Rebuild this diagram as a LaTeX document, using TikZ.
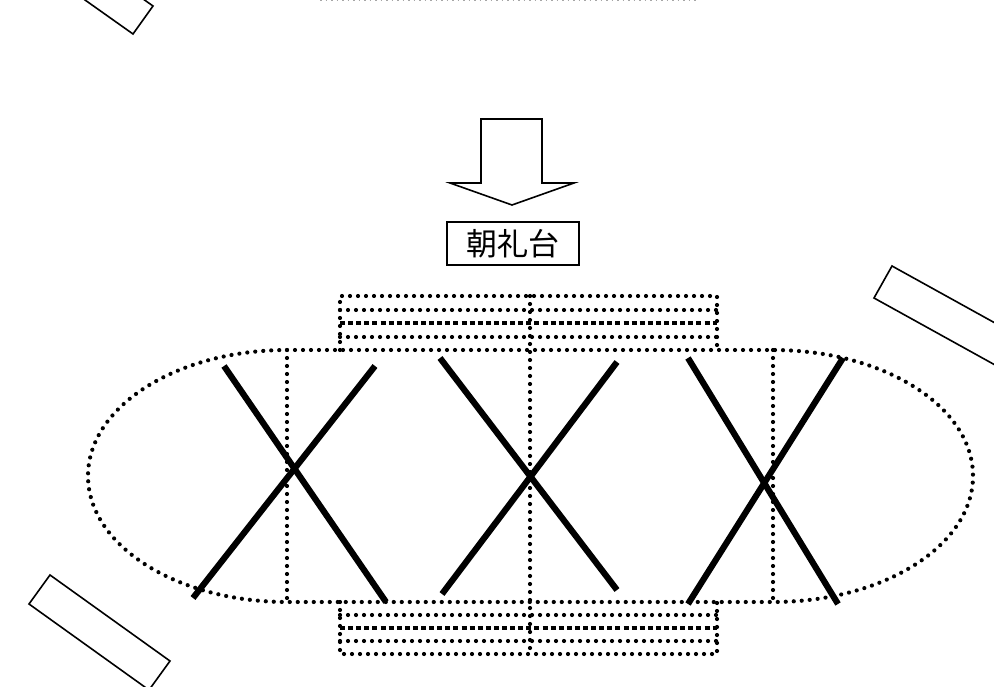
\documentclass[tikz,border=0pt]{standalone}
\usepackage{fontspec}
\newfontfamily\cjkfont{Noto Sans CJK JP}
\tikzset{
  thinline/.style={draw=black,line width=1.6pt,line join=miter},
  dotline/.style={draw=black,line width=4.2pt,line cap=round,dash pattern=on 0pt off 8pt},
  dashline/.style={draw=black,line width=3.2pt,dash pattern=on 5pt off 3.1pt},
  crossline/.style={draw=black,line width=6.2pt},
}
\begin{document}
\begin{tikzpicture}[x=1pt,y=-1pt]
    \clip (0,0) rectangle (994,687);
    % benches
    \draw [thinline] (85,0) -- (133,34) -- (153,6) -- (105,-28) -- cycle;
    \draw [thinline] (50,575) -- (29,604) -- (149,690) -- (170,661) -- cycle;
    \draw [thinline] (892,266) -- (874,298) -- (1024,381) -- (1042,349) -- cycle;
    \draw [draw=black!35,line width=1pt,dash pattern=on 1.5pt off 4pt] (320,0.5) -- (697,0.5);
    % arrow
    \draw [thinline] (481,119) -- (542,119) -- (542,183) -- (574,183) -- (512,205)
        -- (450,183) -- (481,183) -- cycle;
    % label
    \node [thinline,minimum width=132pt,minimum height=43pt,inner sep=0pt,font=\cjkfont\fontsize{31}{31}\selectfont]
        (dai) at (513,243.5) {朝礼台};
    % track
    \coordinate (tl) at (287,350);
    \coordinate (tr) at (773,350);
    \coordinate (br) at (773,602);
    \coordinate (bl) at (287,602);
    \draw [dotline] (tl) -- (tr) arc [start angle=-90,end angle=90,x radius=200,y radius=126]
        -- (bl) arc [start angle=90,end angle=270,x radius=199,y radius=126];
    \draw [dotline] (tl) -- (bl);
    \draw [dotline] (tr) -- (br);
    \draw [dotline] (530,296) -- (530,654);
    % stands
    \draw [dotline] (340,350) -- (340,296) -- (717,296) -- (717,350);
    \draw [dotline] (340,310) -- (717,310);
    \draw [dashline] (340,323) -- (717,323);
    \draw [dotline] (340,337) -- (717,337);
    \draw [dotline] (340,602) -- (340,654) -- (717,654) -- (717,602);
    \draw [dotline] (340,615) -- (717,615);
    \draw [dashline] (340,628) -- (717,628);
    \draw [dotline] (340,641) -- (717,641);
    % crosses
    \draw [crossline] (224,366) -- (386,602);
    \draw [crossline] (375,366) -- (193,598);
    \draw [crossline] (440,358) -- (617,590);
    \draw [crossline] (617,362) -- (442,594);
    \draw [crossline] (688,358) -- (838,604);
    \draw [crossline] (843,358) -- (688,604);
\end{tikzpicture}
\end{document}
